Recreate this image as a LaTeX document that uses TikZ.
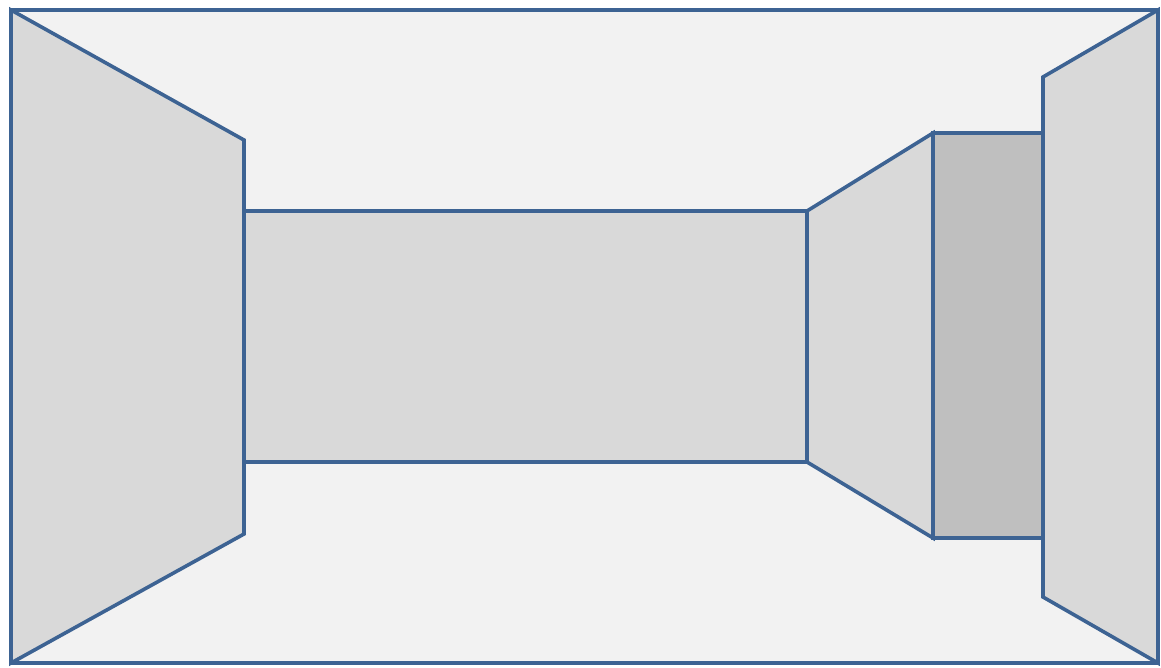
\documentclass[tikz,border=0pt]{standalone}
\usepackage{tikz}
\usetikzlibrary{calc}
\definecolor{edgeblue}{HTML}{3D6393}
\definecolor{floorgrey}{HTML}{F2F2F2}
\definecolor{wallgrey}{HTML}{D9D9D9}
\definecolor{darkgrey}{HTML}{BFBFBF}

\begin{document}
\begin{tikzpicture}[x=1pt,y=-1pt,line join=miter,
   outline/.style={draw=edgeblue,line width=3.6pt},
   wall/.style={outline,fill=wallgrey},
   panel/.style={outline,fill=darkgrey}]
  \useasboundingbox (0,0) rectangle (1161,667);
  % room outline, floor and ceiling
  \path[outline,fill=floorgrey] (11,10) rectangle (1158,663);
  % side walls
  \path[wall] (11,10) -- (244,140) -- (244,534) -- (11,663) -- cycle;
  \path[wall] (1158,10) -- (1043,77) -- (1043,597) -- (1158,663) -- cycle;
  % far wall of the room
  \path[wall] (244,211) rectangle (807,462);
  % corridor to the right
  \path[wall] (807,211) -- (933,133) -- (933,538) -- (807,462) -- cycle;
  \path[panel] (933,133) rectangle (1043,538);
\end{tikzpicture}
\end{document}
